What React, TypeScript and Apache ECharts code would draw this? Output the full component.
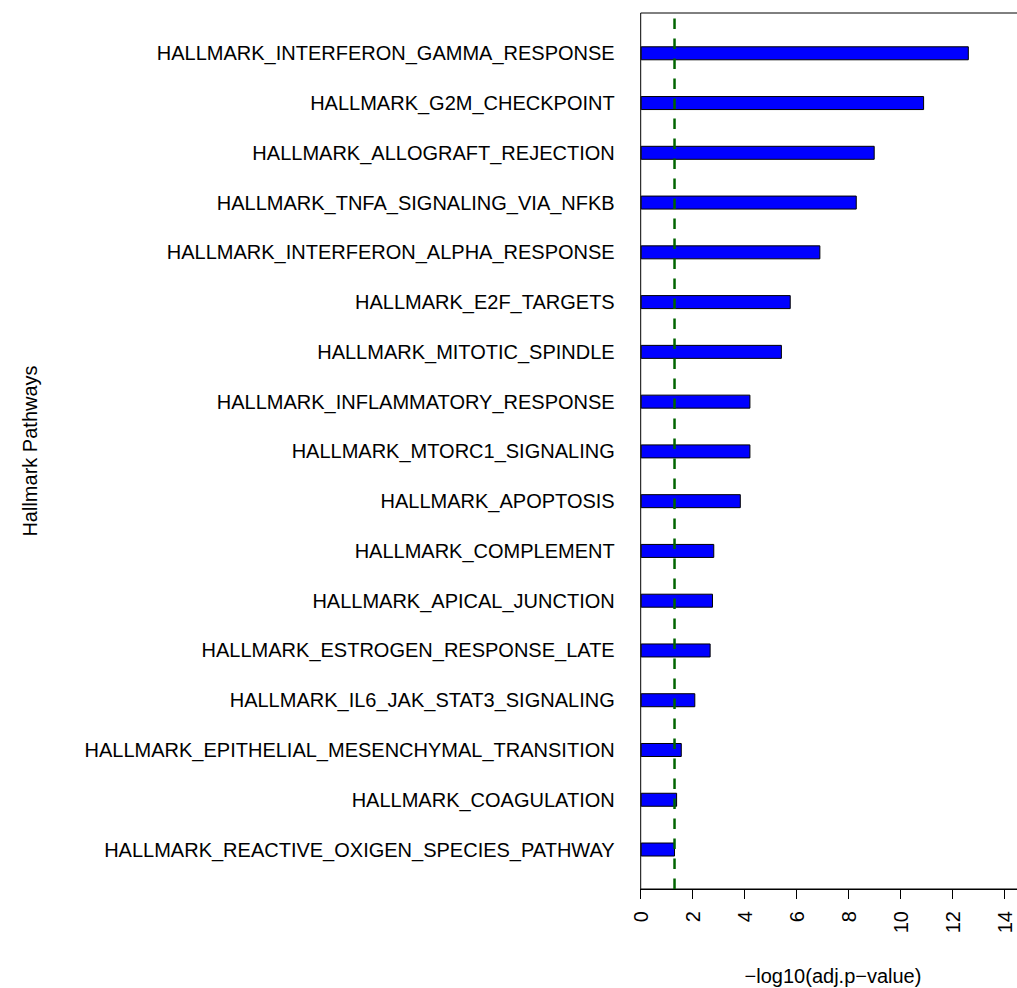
import React, { useEffect, useRef } from "react";
import * as echarts from "echarts";

// Hallmark pathways, top to bottom
const pathways: string[] = [
  "HALLMARK_INTERFERON_GAMMA_RESPONSE",
  "HALLMARK_G2M_CHECKPOINT",
  "HALLMARK_ALLOGRAFT_REJECTION",
  "HALLMARK_TNFA_SIGNALING_VIA_NFKB",
  "HALLMARK_INTERFERON_ALPHA_RESPONSE",
  "HALLMARK_E2F_TARGETS",
  "HALLMARK_MITOTIC_SPINDLE",
  "HALLMARK_INFLAMMATORY_RESPONSE",
  "HALLMARK_MTORC1_SIGNALING",
  "HALLMARK_APOPTOSIS",
  "HALLMARK_COMPLEMENT",
  "HALLMARK_APICAL_JUNCTION",
  "HALLMARK_ESTROGEN_RESPONSE_LATE",
  "HALLMARK_IL6_JAK_STAT3_SIGNALING",
  "HALLMARK_EPITHELIAL_MESENCHYMAL_TRANSITION",
  "HALLMARK_COAGULATION",
  "HALLMARK_REACTIVE_OXIGEN_SPECIES_PATHWAY",
];

// -log10(adjusted p-value) per pathway
const negLog10AdjP: number[] = [
  12.62, 10.9, 9.0, 8.31, 6.91, 5.77, 5.43, 4.22, 4.22, 3.85, 2.83, 2.78, 2.69,
  2.1, 1.58, 1.4, 1.32,
];

// significance threshold: adj. p = 0.05
const threshold: number = -Math.log10(0.05);

const xTicks: number[] = [0, 2, 4, 6, 8, 10, 12, 14];

const FONT = "'Liberation Sans', Arial, Helvetica, sans-serif";

export default function App() {
  const ref = useRef<HTMLDivElement>(null);

  useEffect(() => {
    if (!ref.current) return;
    const chart = echarts.init(ref.current, undefined, { renderer: "svg" });

    const plotLeft = 640.7;
    const pxPerUnit = 26;
    const xMax = 14.78;
    const plotWidth = xMax * pxPerUnit;

    chart.setOption({
      animation: false,
      backgroundColor: "#ffffff",
      grid: [
        {
          // plot frame holding the x axis and threshold line
          left: plotLeft,
          top: 13,
          width: plotWidth,
          height: 876,
          show: true,
          borderColor: "#000000",
          borderWidth: 1,
          backgroundColor: "transparent",
        },
        {
          // bar area
          left: plotLeft,
          top: 28.4,
          width: plotWidth,
          height: 846,
        },
      ],
      xAxis: [
        {
          type: "value",
          gridIndex: 0,
          min: 0,
          max: xMax,
          interval: 2,
          splitLine: { show: false },
          axisLine: { show: true, lineStyle: { color: "#000", width: 1 } },
          axisTick: {
            show: true,
            length: 10,
            lineStyle: { color: "#000", width: 1 },
          },
          axisLabel: {
            rotate: 90,
            margin: 22,
            fontSize: 20,
            fontFamily: FONT,
            color: "#000",
            formatter: (v: number) => (xTicks.includes(v) ? String(v) : ""),
          },
        },
        {
          type: "value",
          gridIndex: 1,
          min: 0,
          max: xMax,
          show: false,
        },
      ],
      yAxis: [
        {
          type: "value",
          gridIndex: 0,
          min: 0,
          max: 1,
          show: false,
        },
        {
          type: "category",
          gridIndex: 1,
          data: pathways,
          inverse: true,
          axisLine: { show: false },
          axisTick: { show: false },
          splitLine: { show: false },
          axisLabel: {
            margin: 26,
            fontSize: 20,
            fontFamily: FONT,
            color: "#000",
          },
        },
      ],
      series: [
        {
          type: "bar",
          xAxisIndex: 1,
          yAxisIndex: 1,
          data: negLog10AdjP,
          barWidth: 14,
          itemStyle: {
            color: "#0000ff",
            borderColor: "#000000",
            borderWidth: 1,
          },
          z: 2,
        },
        {
          type: "line",
          xAxisIndex: 0,
          yAxisIndex: 0,
          data: [
            [threshold, 0],
            [threshold, 1],
          ],
          symbol: "none",
          lineStyle: {
            color: "#006400",
            width: 2.5,
            type: [10.5, 9.5],
          },
          z: 5,
        },
      ],
      graphic: [
        {
          type: "text",
          x: 30,
          y: 451,
          rotation: Math.PI / 2,
          style: {
            text: "Hallmark Pathways",
            fontSize: 20,
            fontFamily: FONT,
            fill: "#000",
            align: "center",
            verticalAlign: "middle",
          },
        },
        {
          type: "text",
          x: 833,
          y: 976,
          style: {
            text: "\u2212log10(adj.p\u2212value)",
            fontSize: 20,
            fontFamily: FONT,
            fill: "#000",
            align: "center",
            verticalAlign: "middle",
          },
        },
      ],
    });

    return () => chart.dispose();
  }, []);

  // The chart canvas is wider than the visible area so the plot frame
  // continues past the right edge; the wrapper clips it.
  return (
    <div
      style={{
        position: "fixed",
        left: 0,
        top: 0,
        width: 1017,
        height: 988,
        overflow: "hidden",
        background: "#fff",
      }}
    >
      <div ref={ref} style={{ width: 1060, height: 988 }} />
    </div>
  );
}
